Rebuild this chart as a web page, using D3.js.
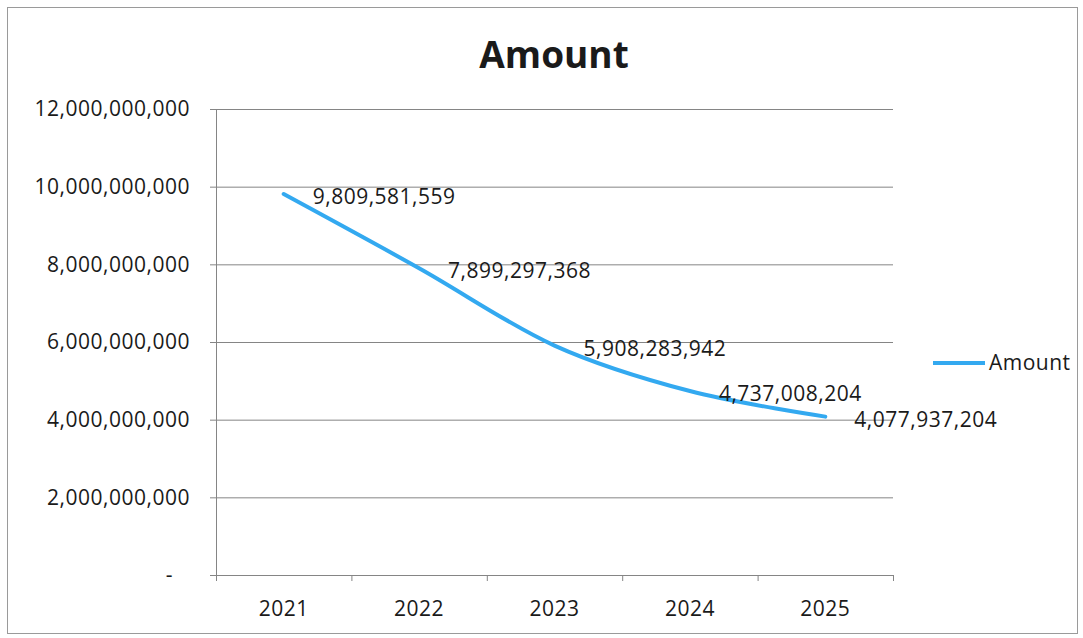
<!DOCTYPE html>
<html>
<head>
<meta charset="utf-8">
<script src="https://cdn.jsdelivr.net/npm/d3@7"></script>
<style>
  html, body { margin: 0; padding: 0; background: #fff; }
  svg { display: block; }
  text { font-family: "Open Sans", "Noto Sans", sans-serif; fill: #1a1a1a; letter-spacing: 0.5px; }
</style>
</head>
<body>
<svg id="chart" width="1083" height="638"></svg>
<script>
// Yearly amounts
const years = ["2021", "2022", "2023", "2024", "2025"];
const amounts = [9809581559, 7899297368, 5908283942, 4737008204, 4077937204];
const yTicks = [0, 2000000000, 4000000000, 6000000000, 8000000000, 10000000000, 12000000000];
const seriesName = "Amount";
const chartTitle = "Amount";

const svg = d3.select("#chart");
const W = 1083, H = 638;
const plot = { left: 216, right: 893, top: 109, bottom: 575 };
const FS = 21;

// outer chart frame
svg.append("rect")
  .attr("x", 7.5).attr("y", 7.5)
  .attr("width", W - 13).attr("height", H - 12)
  .attr("fill", "#fff").attr("stroke", "#9a9a9a").attr("stroke-width", 1);

const x = d3.scaleBand().domain(years).range([plot.left, plot.right]);
const y = d3.scaleLinear().domain([0, 12000000000]).range([plot.bottom, plot.top]);

const fmt = d3.format(",");
const tickFmt = v => v === 0 ? "-" : fmt(v);

// horizontal gridlines + y axis labels
const yAxis = d3.axisLeft(y)
  .tickValues(yTicks)
  .tickSize(-(plot.right - plot.left))
  .tickSizeOuter(0)
  .tickPadding(26)
  .tickFormat(tickFmt);

const gy = svg.append("g")
  .attr("transform", `translate(${plot.left},0)`)
  .call(yAxis);
gy.select(".domain").remove();
gy.selectAll(".tick line")
  .attr("x1", -6)
  .attr("stroke", "#858585").attr("stroke-width", 1);
gy.selectAll(".tick text")
  .attr("font-size", FS)
  .attr("fill", "#1a1a1a")
  .style("font-family", '"Open Sans", sans-serif');
gy.selectAll(".tick").filter(d => d === 0).select("text").attr("dx", -17);

// vertical axis line
svg.append("line")
  .attr("x1", plot.left + 0.5).attr("x2", plot.left + 0.5)
  .attr("y1", plot.top).attr("y2", plot.bottom + 6)
  .attr("stroke", "#858585");

// category axis: tick marks at band boundaries, labels centred
const bounds = years.map(d => x(d)).concat([x(years[years.length - 1]) + x.bandwidth()]);
svg.append("g").selectAll("line").data(bounds).join("line")
  .attr("x1", d => d + 0.5).attr("x2", d => d + 0.5)
  .attr("y1", plot.bottom).attr("y2", plot.bottom + 6)
  .attr("stroke", "#858585");

svg.append("g").selectAll("text").data(years).join("text")
  .attr("x", d => x(d) + x.bandwidth() / 2)
  .attr("y", 616)
  .attr("text-anchor", "middle")
  .attr("font-size", FS)
  .text(d => d);

// smoothed series line
const pts = years.map((d, i) => [x(d) + x.bandwidth() / 2, y(amounts[i])]);
svg.append("path")
  .datum(pts)
  .attr("d", d3.line().curve(d3.curveCatmullRom.alpha(0)))
  .attr("fill", "none")
  .attr("stroke", "#33a9f0")
  .attr("stroke-width", 4)
  .attr("stroke-linecap", "round");

// value labels to the right of each point
svg.append("g").selectAll("text").data(amounts).join("text")
  .attr("x", (d, i) => pts[i][0] + 29)
  .attr("y", (d, i) => pts[i][1] + 10)
  .attr("font-size", FS)
  .text(d => fmt(d));

// title
svg.append("text")
  .attr("x", 554).attr("y", 68)
  .attr("text-anchor", "middle")
  .attr("font-size", 37)
  .attr("font-weight", "bold")
  .style("letter-spacing", "0px")
  .text(chartTitle);

// legend
svg.append("line")
  .attr("x1", 933).attr("x2", 985)
  .attr("y1", 363).attr("y2", 363)
  .attr("stroke", "#33a9f0").attr("stroke-width", 4);
svg.append("text")
  .attr("x", 989).attr("y", 370)
  .attr("font-size", FS)
  .text(seriesName);
</script>
</body>
</html>
